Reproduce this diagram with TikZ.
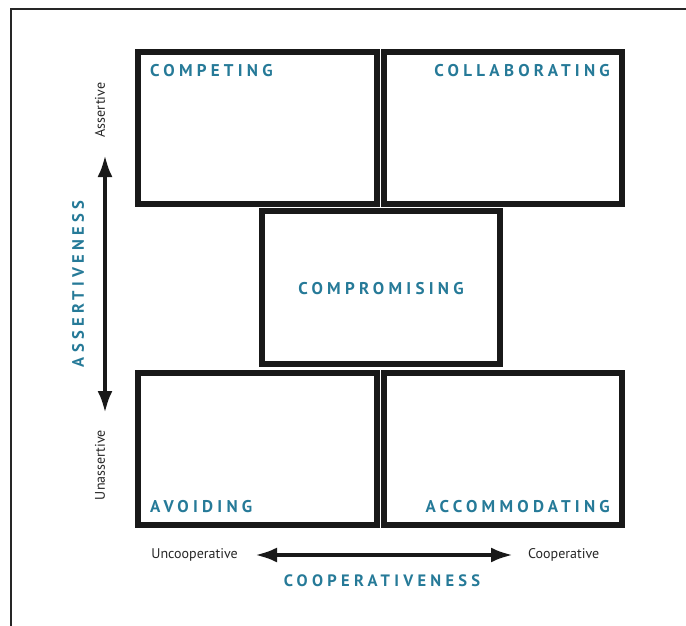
\documentclass[tikz,border=0pt]{standalone}
\usepackage{fontspec}
\setmainfont{PT Sans}
\usetikzlibrary{arrows.meta}
\definecolor{teal}{RGB}{38,122,152}
\newfontfamily\modefont[LetterSpace=25]{PT Sans Bold}
\newfontfamily\axisfont[LetterSpace=26]{PT Sans Bold}
\tikzset{
  quad/.style={draw=black!90, line width=5.5pt, inner sep=0pt,
    minimum width=239pt, minimum height=152pt},
  modelabel/.style={text=teal, font=\modefont\fontsize{17}{17}\selectfont, inner sep=0pt},
  axislabel/.style={text=teal, font=\axisfont\fontsize{16.5}{16.5}\selectfont, inner sep=0pt},
  endlabel/.style={text=black!85, font=\fontsize{14}{14}\selectfont, inner sep=0pt},
  axis/.style={draw=black!90, line width=4pt,
    {Latex[length=22pt,width=15pt]}-{Latex[length=22pt,width=15pt]}},
}
\begin{document}
\begin{tikzpicture}[x=1pt, y=-1pt]
  \useasboundingbox (0,0) rectangle (686,626);
  % page frame (top and left edges)
  \draw[line width=2pt, black!85] (11,626) -- (11,9) -- (686,9);

  % the five conflict modes
  \node[quad] (competing)     at (257.5,128)   {};
  \node[quad, minimum width=238pt] (collab) at (503,128) {};
  \node[quad, minimum width=238pt, minimum height=153pt] (compromise) at (381,287.5) {};
  \node[quad] (avoiding)      at (257.5,449)   {};
  \node[quad, minimum width=238pt] (accommodating) at (503,449) {};

  \node[modelabel, anchor=west] (competingtxt) at (150,71) {COMPETING};
  \node[modelabel, anchor=east] (collabtxt) at (610,71) {COLLABORATING};
  \node[modelabel] (compromisetxt) at (381,289) {COMPROMISING};
  \node[modelabel, anchor=west] (avoidingtxt) at (150,507) {AVOIDING};
  \node[modelabel, anchor=east] (accomtxt) at (610,507) {ACCOMMODATING};

  % assertiveness axis
  \node[endlabel, rotate=90] (assertive) at (100,110) {Assertive};
  \node[endlabel, rotate=90] (unassertive) at (100,465) {Unassertive};
  \coordinate (atop) at (105,155);
  \coordinate (abot) at (105,413);
  \draw[axis] (abot) -- (atop);
  \node[axislabel, rotate=90] (assertiveness) at (78,284) {ASSERTIVENESS};

  % cooperativeness axis
  \node[endlabel, anchor=east] (uncoop) at (238,555) {Uncooperative};
  \node[endlabel, anchor=west] (coop) at (528,555) {Cooperative};
  \coordinate (cleft) at (255,555);
  \coordinate (cright) at (513,555);
  \draw[axis] (cleft) -- (cright);
  \node[axislabel] (cooperativeness) at (382,581) {COOPERATIVENESS};
\end{tikzpicture}
\end{document}
